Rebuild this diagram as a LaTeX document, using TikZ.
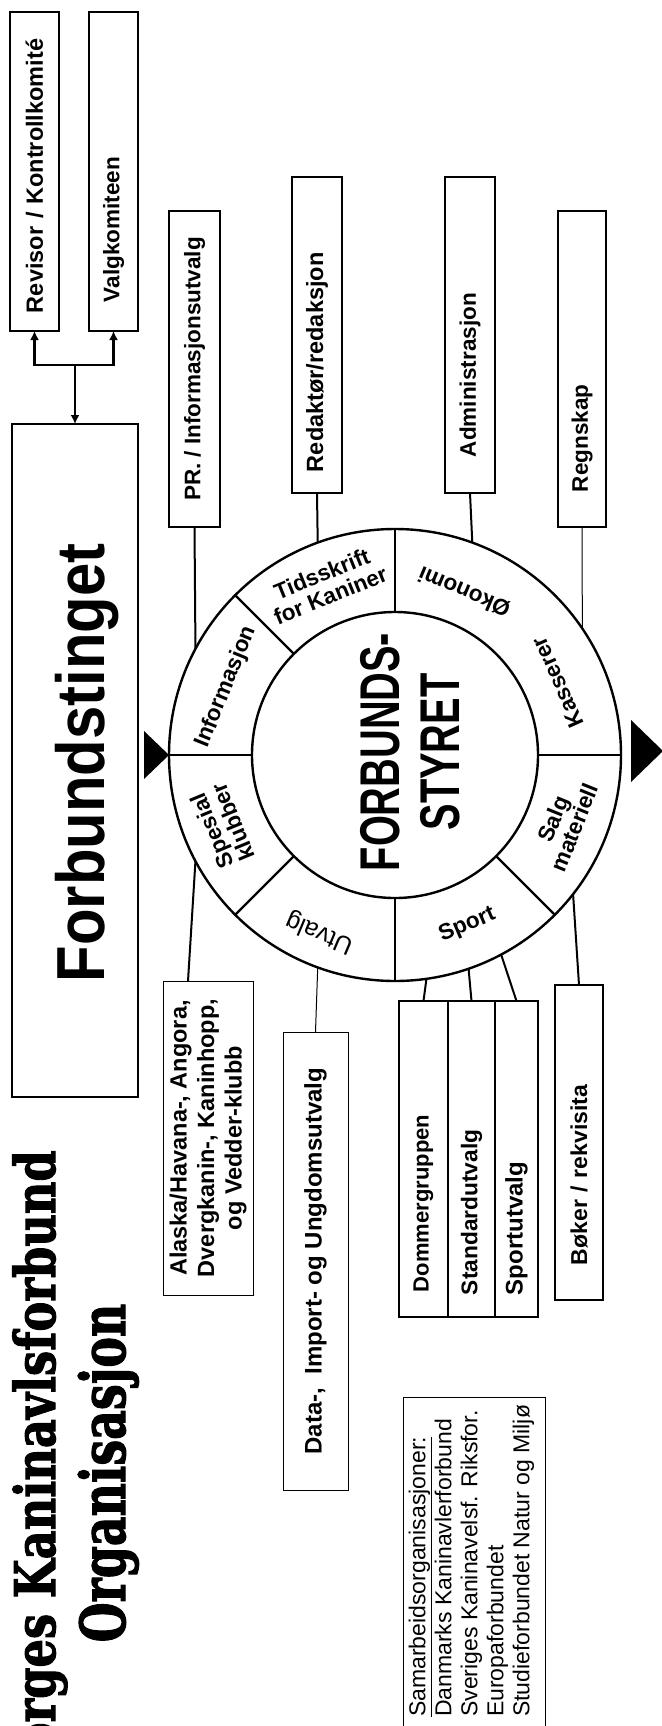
\documentclass[tikz,border=0pt]{standalone}
\usepackage{fontspec}
\usepackage{graphicx}
\setmainfont{Liberation Sans}
\newfontfamily\titlefont{DejaVu Serif}[BoldFeatures={FakeBold=2}]
\usetikzlibrary{arrows.meta}

\begin{document}
\begin{tikzpicture}[
		x=1pt, y=-1pt,
		box/.style={draw, line width=2.4pt, rotate=90, inner sep=0pt, outer sep=0pt,
			font=\bfseries\fontsize{22.5}{27}\selectfont},
		thinbox/.style={box, line width=1pt},
		seg/.style={inner sep=0pt, align=center, font=\bfseries\fontsize{22.5}{23}\selectfont},
		ring/.style={line width=2.4pt},
		link/.style={line width=2pt},
		arr/.style={line width=2.4pt, -{Latex[length=9pt,width=9pt]}}
	]
  \useasboundingbox (0,0) rectangle (661,1726);
  % title
  \node (tittel) [rotate=90, anchor=base east, inner sep=0pt, font=\titlefont\bfseries\fontsize{56}{56}\selectfont] at (55,1150) {\scalebox{0.8}[1]{Norges Kaninavlsforbund}};
  \node (org) [rotate=90, anchor=base, inner sep=0pt, font=\titlefont\bfseries\fontsize{62}{62}\selectfont] at (125,1473) {\scalebox{0.74}[1]{Organisasjon}};
  % upper boxes
  \node (rev) [box, line width=1.8pt, minimum width=319pt, minimum height=49pt, text width=283pt, align=left, font=\bfseries\fontsize{23.5}{28}\selectfont] at (34.5,171.5) {Revisor / Kontrollkomité};
  \node (valg) [box, minimum width=319pt, minimum height=49pt, text width=261pt, align=left] at (113.5,171.5) {Valgkomiteen};
  \node (forb) [box, minimum width=673pt, minimum height=126pt] at (75,760.5) {};
  \node (forbtxt) [rotate=90, anchor=base, inner sep=0pt, font=\bfseries\fontsize{68}{68}\selectfont] at (104,763) {\scalebox{0.88}[1]{Forbundstinget}};
  \node (pr) [box, minimum width=316pt, minimum height=51pt] at (194.5,369) {PR. / Informasjonsutvalg};
  \node (redak) [box, minimum width=316pt, minimum height=50pt, text width=274pt, align=left, font=\bfseries\fontsize{23.5}{27}\selectfont] at (317,335) {Redaktør/redaksjon};
  \node (admin) [box, minimum width=316pt, minimum height=50pt, text width=244pt, align=left] at (470,335) {Administrasjon};
  \node (regn) [box, minimum width=316pt, minimum height=48pt, text width=246pt, align=left] at (582,369) {Regnskap};
  % lower boxes
  \node (alaska) [thinbox, minimum width=314pt, minimum height=90pt, align=center, font=\bfseries\fontsize{23.5}{27.5}\selectfont] at (208,1138) {Alaska/Havana-, Angora,\\Dvergkanin-, Kaninhopp,\\og Vedder-klubb};
  \node (data) [thinbox, minimum width=458pt, minimum height=65pt, font=\bfseries\fontsize{24}{28}\selectfont] at (315.5,1261) {Data-,\ \ Import- og Ungdomsutvalg};
  \node (dommer) [box, minimum width=316pt, minimum height=49pt, text width=266pt, align=left, font=\bfseries\fontsize{22}{26}\selectfont] at (423.5,1159) {Dommergruppen};
  \node (std) [box, minimum width=316pt, minimum height=47pt, text width=272pt, align=left, font=\bfseries\fontsize{22.7}{26}\selectfont] at (471.5,1159) {Standardutvalg};
  \node (sportutv) [box, minimum width=316pt, minimum height=43pt, text width=272pt, align=left, font=\bfseries\fontsize{24}{26}\selectfont] at (516.5,1159) {Sportutvalg};
  \node (boker) [box, minimum width=315pt, minimum height=48pt, text width=245pt, align=left, font=\bfseries\fontsize{23}{26}\selectfont] at (579,1142.5) {Bøker / rekvisita};
  \node (samb) [thinbox, minimum width=348pt, minimum height=142pt] at (474,1571) {};
  \node (sambtxt) [rotate=90, anchor=west, align=left, inner sep=0pt, font=\fontsize{23}{26}\selectfont] at (471.5,1717) {\underline{Samarbeidsorganisasjoner:}\\Danmarks Kaninavlerforbund\\Sveriges Kaninavelsf. Riksfor.\\Europaforbundet\\Studieforbundet Natur og Miljø};
  % the wheel
  \node (wheel) [circle, draw, ring, minimum size=452pt, inner sep=0pt, outer sep=0pt] at (395,755) {};
  \node (styret) [circle, draw, ring, minimum size=286pt, inner sep=0pt, outer sep=0pt] at (395,755) {};
  \foreach \a in {0,90,135,180,225,270,315}
    \draw[ring] (styret.\a) -- (wheel.\a);
  \node (styrtxt) [rotate=90, align=center, inner sep=0pt, font=\bfseries\fontsize{56}{60}\selectfont] at (410,752) {\scalebox{0.71}[1]{FORBUNDS-}\\\scalebox{0.71}[1]{STYRET}};
  \node (info) [seg, rotate=68] at ([shift={(158:182pt)}]wheel.center) {Informasjon};
  \node (tids) [seg, rotate=22] at ([shift={(112:184pt)}]wheel.center) {Tidsskrift\\for Kaniner};
  \node (okon) [seg, rotate=157] at ([shift={(67:177pt)}]wheel.center) {Økonomi};
  \node (kass) [seg, rotate=114] at ([shift={(24:178pt)}]wheel.center) {Kasserer};
  \node (salg) [seg, rotate=68] at ([shift={(338:182pt)}]wheel.center) {Salg\\materiell};
  \node (sport) [seg, rotate=23] at ([shift={(293:185pt)}]wheel.center) {Sport};
  \node (utv) [seg, rotate=157, font=\fontsize{25}{26}\selectfont] at ([shift={(247:193pt)}]wheel.center) {Utvalg};
  \node (spes) [seg, rotate=112.5] at ([shift={(202.5:187pt)}]wheel.center) {Spesial\\klubber};
  \fill (144,731) -- (wheel.180) -- (144,779) -- cycle;
  \fill (631,720) -- (663,751) -- (631,782) -- cycle;
  % connectors
  \coordinate (knot) at (75,365);
  \draw[arr] (knot) -| (rev.west);
  \draw[arr] (knot) -| (valg.west);
  \draw[arr] (knot) -- (forb.east);
  \draw[link] (pr.west) -- (wheel.152.5);
  \draw[link] (redak.west) -- (wheel.110.2);
  \draw[link] (admin.west) -- (wheel.70.6);
  \draw[link, line width=1pt] (regn.west) -- (wheel.34.2);
  \draw[link] ([xshift=-20pt]alaska.east) -- (wheel.208.3);
  \draw[link, line width=1pt] (data.east) -- (wheel.250.1);
  \draw[link] (dommer.east) -- (wheel.278.1);
  \draw[link] (std.east) -- (wheel.289.4);
  \draw[link] (sportutv.east) -- (wheel.298.55);
  \draw[link] (boker.east) -- (wheel.322.8);
\end{tikzpicture}
\end{document}
